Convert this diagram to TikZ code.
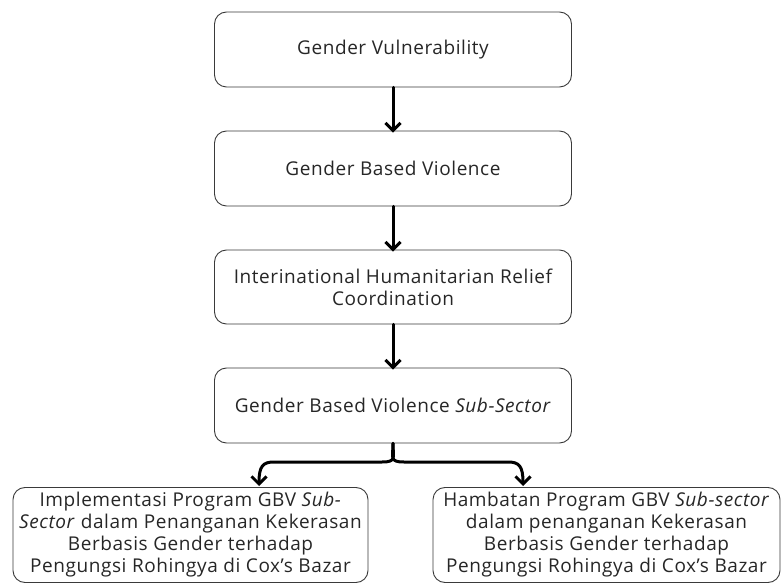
\documentclass[tikz,border=0pt]{standalone}
\usepackage{fontspec}
\setmainfont{Open Sans}[LetterSpace=3]
\usetikzlibrary{arrows.meta}
\definecolor{txt}{HTML}{262626}
\definecolor{edge}{HTML}{3A3A3A}
\newcommand{\apos}{{\char"27}}
\tikzset{
  box/.style={draw=edge, line width=0.9pt, rounded corners=12pt, align=center,
    text=txt, font=\fontsize{19}{22}\selectfont, inner sep=0pt},
  link/.style={line width=3pt, line cap=round, line join=round,
    -{Straight Barb[length=7.5pt, width=15pt, line width=3pt]}}
}
\begin{document}
\begin{tikzpicture}[x=1pt, y=-1pt]
\useasboundingbox (0,0) rectangle (782,585);
\node[box, minimum width=357pt, minimum height=75pt] (b1) at (393,49.5) {Gender Vulnerability};
\node[box, minimum width=357pt, minimum height=75pt] (b2) at (393,168.5) {Gender Based Violence};
\node[box, minimum width=357pt, minimum height=74pt] (b3) at (393,287) {Interinational Humanitarian Relief\\Coordination};
\node[box, minimum width=357pt, minimum height=75pt] (b4) at (393,405.5) {Gender Based Violence \textit{Sub-Sector}};
\node[box, minimum width=355pt, minimum height=95pt] (b5) at (190.5,535) {Implementasi Program GBV \textit{Sub-}\\\textit{Sector} dalam Penanganan Kekerasan\\Berbasis Gender terhadap\\Pengungsi Rohingya di Cox\apos s Bazar};
\node[box, minimum width=347pt, minimum height=95pt] (b6) at (606.5,535) {Hambatan Program GBV \textit{Sub-sector}\\dalam penanganan Kekerasan\\Berbasis Gender terhadap\\Pengungsi Rohingya di Cox\apos s Bazar};
\coordinate (lt) at (259,486);
\coordinate (rt) at (523,486);
\draw[link] (b1.south) -- ([yshift=-2pt]b2.north);
\draw[link] (b2.south) -- ([yshift=-2pt]b3.north);
\draw[link] (b3.south) -- ([yshift=-2pt]b4.north);
\draw[link] (b4.south) .. controls ++(0,14) and (397,462) .. (382,462) -- (274,462) .. controls (263,462) and (259,466) .. (lt);
\draw[link] (b4.south) .. controls ++(0,14) and (389,462) .. (404,462) -- (508,462) .. controls (519,462) and (523,466) .. (rt);
\end{tikzpicture}
\end{document}
